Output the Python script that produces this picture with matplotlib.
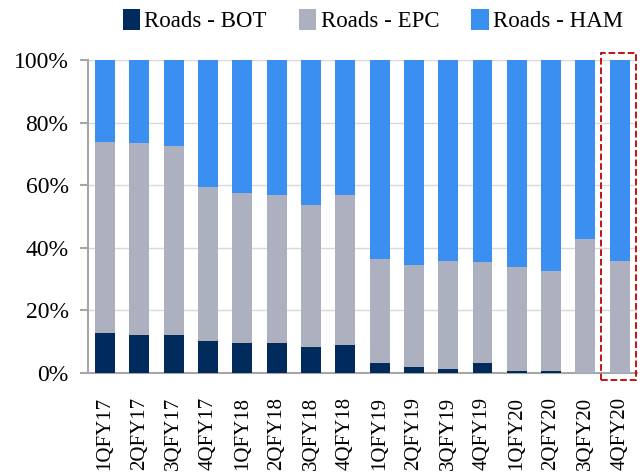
import matplotlib
matplotlib.use('Agg')
import matplotlib.pyplot as plt
from matplotlib.patches import Rectangle
import numpy as np

quarters = ['1QFY17', '2QFY17', '3QFY17', '4QFY17', '1QFY18', '2QFY18', '3QFY18', '4QFY18',
            '1QFY19', '2QFY19', '3QFY19', '4QFY19', '1QFY20', '2QFY20', '3QFY20', '4QFY20']
bot = [12.8, 12.1, 12.1, 10.3, 9.6, 9.6, 8.3, 9.0, 3.2, 2.0, 1.3, 3.2, 0.6, 0.7, 0.0, 0.0]
bot_epc = [74.0, 73.5, 72.6, 59.4, 57.5, 57.0, 53.6, 57.0, 36.5, 34.6, 35.9, 35.4, 34.0, 32.6, 43.0, 35.8]
epc = [t - b for t, b in zip(bot_epc, bot)]
ham = [100 - t for t in bot_epc]

plt.rcParams['font.family'] = 'Liberation Serif'
fig = plt.figure(figsize=(6.42, 4.74), dpi=100)
ax = fig.add_axes([0.137, 0.213, 0.855, 0.66])

x = np.arange(len(quarters))
w = 0.58
ax.bar(x, bot, w, color='#002b5c', label='Roads - BOT', zorder=3)
ax.bar(x, epc, w, bottom=bot, color='#adb0bf', label='Roads - EPC', zorder=3)
ax.bar(x, ham, w, bottom=bot_epc, color='#3a8ff0', label='Roads - HAM', zorder=3)

ax.set_xlim(-0.5, 15.5)
ax.set_ylim(0, 100)
ax.set_yticks(range(0, 101, 20))
ax.set_yticklabels([f'{v}%' for v in range(0, 101, 20)], fontsize=17)
ax.set_xticks(x)
ax.set_xticklabels(quarters, rotation=90, fontsize=15)
ax.tick_params(axis='x', length=0, pad=17)
ax.tick_params(axis='y', length=6, width=1.5, color='#a6a6a6', pad=8)
ax.yaxis.grid(True, color='#d9d9d9', lw=1, zorder=0)
for s in ['top', 'right']:
    ax.spines[s].set_visible(False)
for s in ['left', 'bottom']:
    ax.spines[s].set_color('#a6a6a6')
    ax.spines[s].set_linewidth(1.5)

ax.add_patch(Rectangle((14.46, -2.2), 1.02, 104.4, fill=False, ec='#c00000', ls='--', lw=1.3,
                       clip_on=False, zorder=5))

fig.legend(*ax.get_legend_handles_labels(), loc='center', bbox_to_anchor=(373 / 642, 0.956),
           ncol=3, frameon=False, fontsize=16.5, handlelength=0.75, handleheight=1.0,
           handletextpad=0.2, columnspacing=1.4, borderaxespad=0)

fig.savefig('out.png', dpi=100)
